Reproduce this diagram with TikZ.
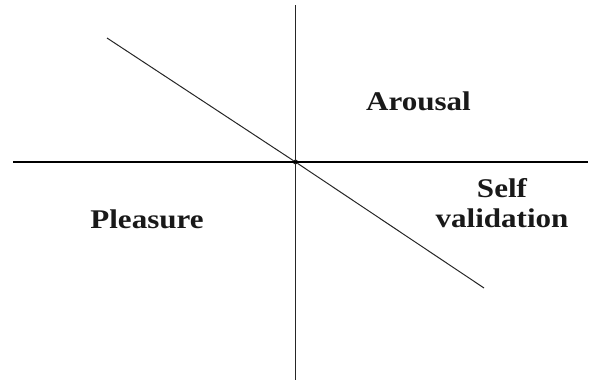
\documentclass[tikz,border=0pt]{standalone}
\usepackage{fontspec}
\newfontfamily\lblfont[FakeStretch=1.15]{Liberation Serif}
\begin{document}
\begin{tikzpicture}[x=1pt,y=-1pt,
  axis/.style={draw=black,line width=1.2pt},
  vaxis/.style={draw=black!85,line width=0.9pt},
  diag/.style={draw=black!85,line width=1pt},
  lbl/.style={font=\lblfont\bfseries\fontsize{27}{30}\selectfont,anchor=base,inner sep=0pt,align=center,text=black!90}]
\useasboundingbox (0,0) rectangle (589,380);
\coordinate (vt) at (295.5,5);
\coordinate (vb) at (295.5,380);
\coordinate (hl) at (13,162);
\coordinate (hr) at (588,162);
\coordinate (d1) at (107,38);
\coordinate (d2) at (484,288);
\node[draw=black,circle,inner sep=0pt,minimum size=4pt,line width=0.8pt,fill=white] (o) at (295.5,162) {};
\draw[vaxis] (vt) -- (vb);
\draw[axis] (hl) -- (hr);
\draw[diag] (d1) -- (o);
\draw[diag] (o) -- (d2);
\node[lbl] (arousal) at (418.5,110) {Arousal};
\node[lbl] (pleasure) at (147,228) {Pleasure};
\node[lbl] (self) at (502,197) {Self};
\node[lbl] (valid) at (502,227) {validation};
\end{tikzpicture}
\end{document}
